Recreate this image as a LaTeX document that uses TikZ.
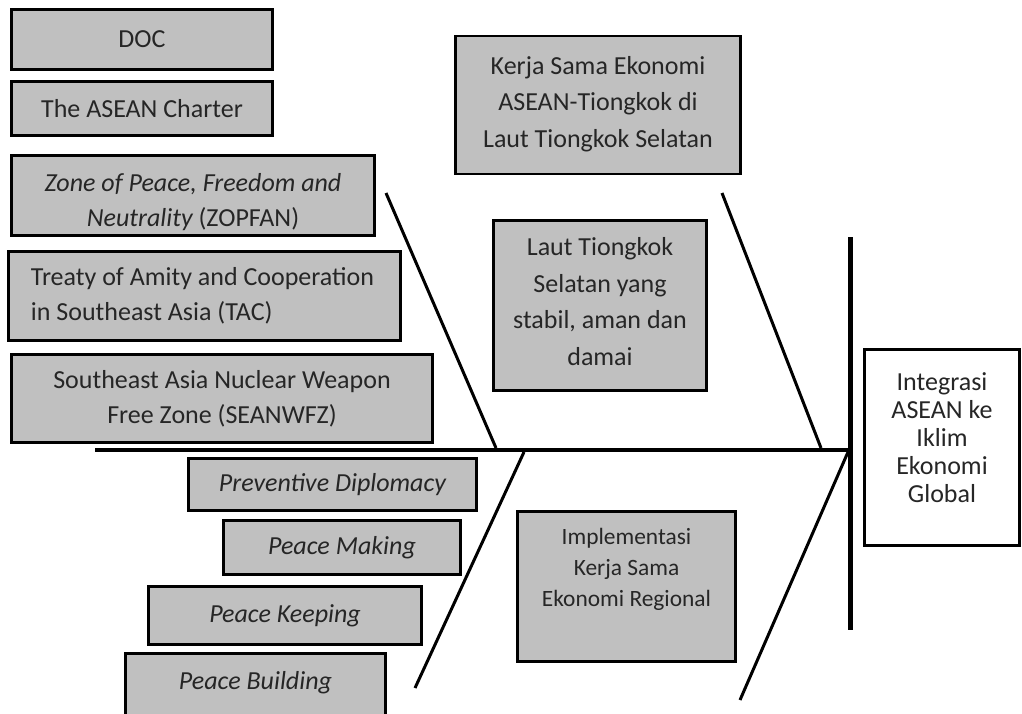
\documentclass[tikz,border=0pt]{standalone}
\usepackage{fontspec}
\setmainfont{Carlito}
\definecolor{boxgray}{RGB}{192,192,192}
\newcommand\fsmain{\fontsize{26}{35}\selectfont}
\newcommand\fswide{\fontsize{26}{36.5}\selectfont}
\newcommand\fsimpl{\fontsize{23.4}{31}\selectfont}
\newcommand\fsinteg{\fontsize{26}{28}\selectfont}
\begin{document}
\begin{tikzpicture}[x=1pt,y=-1pt,
  box/.style={draw=black, line width=2.6pt, fill=boxgray, inner sep=0pt, align=center, font=\fsmain, text=black!85},
  bone/.style={draw=black, line width=3pt},
  spine/.style={draw=black, line width=3.8pt},
  headbar/.style={draw=black, line width=5pt}]
\useasboundingbox (0,0) rectangle (1022,713);
% left column boxes
\node[box, minimum width=261pt, minimum height=60pt] (doc) at (142,39.5) {DOC};
\node[box, minimum width=261pt, minimum height=54pt] (charter) at (142,108.5) {The ASEAN Charter};
\node[box, minimum width=363pt, minimum height=80pt] (zopfan) at (193,195.5) {\rule{0pt}{31pt}\itshape Zone of Peace, Freedom and\\\itshape Neutrality \upshape(ZOPFAN)};
\node[box, align=left, minimum width=392pt, minimum height=89pt] (tac) at (204.5,296) {\hspace*{-4pt}Treaty of Amity and Cooperation\\\hspace*{-4pt}in Southeast Asia (TAC)};
\node[box, minimum width=421pt, minimum height=88pt] (seanwfz) at (222,398.5) {Southeast Asia Nuclear Weapon\\Free Zone (SEANWFZ)};
\node[box, font=\fsmain\itshape, minimum width=288pt, minimum height=52pt] (prev) at (332.5,484.5) {Preventive Diplomacy};
\node[box, font=\fsmain\itshape, minimum width=237pt, minimum height=54pt] (making) at (342,547.5) {Peace Making};
\node[box, font=\fsmain\itshape, minimum width=273pt, minimum height=58pt] (keeping) at (285,615.5) {Peace Keeping};
\node[box, font=\fsmain\itshape, minimum width=260pt, text height=36pt, text depth=38.5pt, anchor=base] (building) at (255.5,689.5) {Peace Building};
% right side boxes
\node[box, font=\fswide, minimum width=285pt, minimum height=138pt] (kerja) at (598,105) {Kerja Sama Ekonomi\\ASEAN-Tiongkok di\\Laut Tiongkok Selatan\\[-30pt]\mbox{}};
\node[box, font=\fswide, minimum width=213pt, minimum height=170pt] (laut) at (600,305.5) {Laut Tiongkok\\Selatan yang\\stabil, aman dan\\damai\\[-28pt]\mbox{}};
\node[box, font=\fsimpl, minimum width=218pt, minimum height=150pt] (impl) at (626.5,586.5) {Implementasi\\Kerja Sama\\Ekonomi Regional\\[8pt]\mbox{}};
\node[box, fill=white, font=\fsinteg, minimum width=155pt, minimum height=196pt] (integ) at (942,447.5) {Integrasi\\ASEAN ke\\Iklim\\Ekonomi\\Global\\[-8pt]\mbox{}};
% fishbone skeleton
\coordinate (tail) at (95,450);
\coordinate (head) at (850,450);
\coordinate (bartop) at (850,237);
\coordinate (barbot) at (850,630);
\coordinate (ul1) at (386,193);
\coordinate (ul2) at (496,448);
\coordinate (ur1) at (722,193);
\coordinate (ur2) at (821,448);
\coordinate (ll1) at (524,452);
\coordinate (ll2) at (415,688);
\coordinate (lr1) at (848,452);
\coordinate (lr2) at (740,700);
\draw[spine] (tail) -- (head);
\draw[headbar] (bartop) -- (barbot);
\draw[bone] (ul1) -- (ul2);
\draw[bone] (ur1) -- (ur2);
\draw[bone] (ll1) -- (ll2);
\draw[bone] (lr1) -- (lr2);
\end{tikzpicture}
\end{document}
